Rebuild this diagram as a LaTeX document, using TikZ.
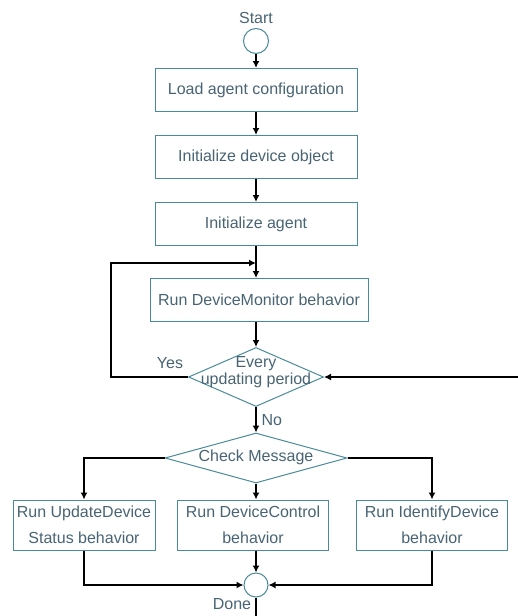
\documentclass[tikz,border=0pt]{standalone}
\usepackage{fontspec}
\setmainfont{Liberation Sans}
\usetikzlibrary{shapes.geometric,arrows.meta}
\definecolor{boxline}{RGB}{74,138,154}
\definecolor{boxtext}{RGB}{72,100,115}
\begin{document}
\begin{tikzpicture}[x=1pt, y=-1pt,
    box/.style={draw=boxline, line width=1pt, rectangle, minimum height=43pt,
        text=boxtext, font=\fontsize{16}{26}\selectfont, align=center, inner sep=2pt},
    dec/.style={draw=boxline, line width=1pt, diamond, inner sep=0pt},
    term/.style={draw=boxline, line width=1pt, circle, minimum size=25pt, inner sep=0pt},
    lbl/.style={text=boxtext, font=\fontsize{16}{17}\selectfont, align=center},
    flow/.style={line width=2.4pt, -{Latex[length=7pt, width=7pt]}}]
\useasboundingbox (0,0) rectangle (518,616);
% start
\node[term] (start) at (256,41) {};
\node[lbl] (starttxt) at (256,18) {Start};
% setup
\node[box, minimum width=202pt] (load) at (256,90) {Load agent configuration};
\node[box, minimum width=202pt] (initdev) at (256,157) {Initialize device object};
\node[box, minimum width=202pt] (initag) at (256,224) {Initialize agent};
\node[box, minimum width=218pt] (monitor) at (259,300) {Run DeviceMonitor behavior};
% updating period check
\node[dec, minimum width=135pt, minimum height=59pt] (upd) at (256,377) {};
\node[lbl] (updtxt) at (256,372) {Every\\updating period};
\node[lbl] (yes) at (170,363) {Yes};
% message check
\node[dec, minimum width=182pt, minimum height=50pt] (check) at (256,458) {};
\node[lbl] (checktxt) at (256,457) {Check Message};
% behaviours
\node[box, minimum width=142pt, minimum height=50pt] (upst) at (84,525) {Run UpdateDevice\\Status behavior};
\node[box, minimum width=151pt, minimum height=50pt] (ctrl) at (253,525) {Run DeviceControl\\behavior};
\node[box, minimum width=151pt, minimum height=50pt] (ident) at (432,525) {Run IdentifyDevice\\behavior};
% done
\node[term, minimum size=24pt] (done) at (256,585) {};
\node[lbl] (donetxt) at (232,604) {Done};
\coordinate (loop) at (256,263);
\coordinate (yesturn) at (111,377);
\coordinate (rin) at (518,377);
\coordinate (out) at (256,616);

\draw[flow] (start) -- (load);
\draw[flow] (load) -- (initdev);
\draw[flow] (initdev) -- (initag);
\draw[flow] (initag.south) -- (monitor.north -| initag.south);
\draw[flow] (monitor.south -| upd.north) -- (upd.north);
\draw[flow] (upd.west) -- (yesturn) |- (loop);
\draw[flow] (rin) -- (upd.east);
\draw[flow] (upd.south) -- node[lbl, right, xshift=1pt] {No} (check.north);
\draw[flow] (check.west) -| (upst.north);
\draw[flow] (check.south) -- (check.south |- ctrl.north);
\draw[flow] (check.east) -| (ident.north);
\draw[flow] (upst.south) |- (done.west);
\draw[flow] (ctrl.south -| done.north) -- (done.north);
\draw[flow] (ident.south) |- (done.east);
\draw[line width=2.4pt] (done.south) -- (out);
\end{tikzpicture}
\end{document}
